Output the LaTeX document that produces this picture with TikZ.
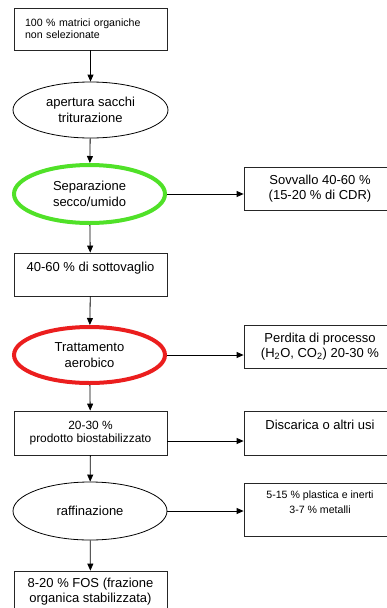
\documentclass[tikz,border=0pt]{standalone}
\usepackage{fontspec}
\setmainfont{Liberation Sans}
\usetikzlibrary{positioning, shapes.geometric, arrows.meta}
\definecolor{sepgreen}{RGB}{80,225,40}
\definecolor{aerored}{RGB}{235,30,30}
\tikzset{stepbox/.style={draw=black!85, line width=0.8pt, rectangle, inner sep=4pt, align=center, font=\fontsize{13}{15.7}\selectfont}}
\tikzset{phase/.style={draw=black, line width=0.8pt, ellipse, inner sep=0pt, align=center, font=\fontsize{13}{15.7}\selectfont}}
\tikzset{hilite/.style={phase, line width=4pt, draw=#1}}
\tikzset{arr/.style={draw, -{Triangle[length=7pt,width=6pt]}, line width=0.8pt}}

\begin{document}
\begin{tikzpicture}[x=1pt, y=-1pt]
\useasboundingbox (0,0) rectangle (387,608);
\clip (0,0) rectangle (387,608);
% main line, left column
	\node[stepbox, minimum width=153pt, minimum height=42pt, text width=131pt, inner xsep=11pt, align=left,
		font=\fontsize{10.6}{11.7}\selectfont] at (90.5, 29) (input) {100 \% matrici organiche\\non selezionate};
	\node[phase, minimum width=155pt, minimum height=56pt] at (90.5, 110) (open) {apertura sacchi\\triturazione};
	\node[hilite=sepgreen, minimum width=151pt, minimum height=58pt] at (89.5, 194) (sep) {Separazione\\secco/umido};
	\node[stepbox, minimum width=153pt, minimum height=43pt] at (90.5, 274.5) (under) {40-60 \% di sottovaglio\\\mbox{}};
	\node[hilite=aerored, minimum width=151pt, minimum height=56pt] at (89.5, 355) (aero) {Trattamento\\aerobico};
	\node[stepbox, minimum width=153pt, minimum height=44pt, font=\fontsize{11.9}{13.3}\selectfont] at (90.5, 433) (bio) {20-30 \%\\prodotto biostabilizzato};
	\node[phase, minimum width=154pt, minimum height=58pt] at (90, 511) (refine) {raffinazione};
	\node[stepbox, minimum width=153pt, minimum height=41pt] at (90.5, 591.5) (fos) {8-20 \% FOS (frazione\\organica stabilizzata)};
% outputs, right column
	\node[stepbox, minimum width=152pt, minimum height=43pt] at (320, 188.5) (over) {Sovvallo 40-60 \%\\(15-20 \% di CDR)};
	\node[stepbox, minimum width=152pt, minimum height=43pt] at (320, 346.5) (loss) {Perdita di processo\\(H\textsubscript{2}O, CO\textsubscript{2}) 20-30 \%};
	\node[stepbox, minimum width=152pt, minimum height=44pt] at (320, 433) (dump) {Discarica o altri usi\\\mbox{}};
	\node[stepbox, minimum width=152pt, minimum height=53pt, font=\fontsize{10.6}{15}\selectfont] at (320, 509.5) (waste) {5-15 \% plastica e inerti\\3-7 \% metalli\\\mbox{}};

	\draw[arr] (input) -- (open);
	\draw[arr] (open) -- (sep);
	\draw[arr] (sep) -- (under);
	\draw[arr] (under) -- (aero);
	\draw[arr] (aero) -- (bio);
	\draw[arr] (bio) -- (refine);
	\draw[arr] (refine) -- (fos);

	\draw[arr] (sep.east) -- (sep.east -| over.west);
	\draw[arr] (aero.east) -- (aero.east -| loss.west);
	\draw[arr] ([yshift=-8pt]bio.east) -- ([yshift=-8pt]bio.east -| dump.west);
	\draw[arr] (refine.east) -- (refine.east -| waste.west);
\end{tikzpicture}
\end{document}
